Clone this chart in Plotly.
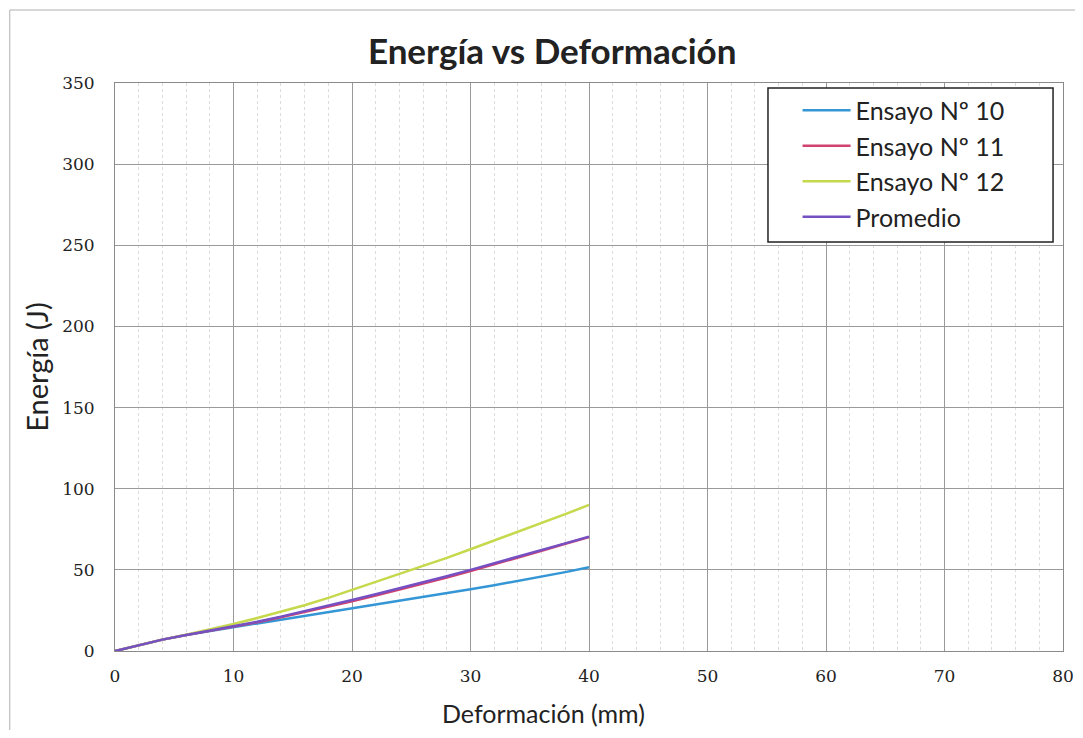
import plotly.graph_objects as go

# Deformación (mm)
deformacion = [0, 2, 4, 6, 8, 10, 12, 14, 16, 18, 20, 22, 24, 26, 28, 30, 32, 34, 36, 38, 40]

# Energía (J) per test
ensayo_10 = [0, 3.5, 7, 9.8, 12.3, 14.6, 17, 19.3, 21.6, 23.9, 26.3, 28.6, 30.9, 33.2, 35.6, 38,
             40.5, 43.1, 45.8, 48.6, 51.6]
ensayo_11 = [0, 3.5, 7, 9.9, 12.5, 14.8, 17.7, 20.8, 24, 27.2, 30.6, 34.2, 37.8, 41.5, 45.3, 49.2,
             53.3, 57.5, 61.8, 66.1, 70.2]
ensayo_12 = [0, 3.5, 7, 10, 13.2, 16.6, 20.3, 24.1, 28.2, 32.7, 37.6, 42.4, 47.3, 52.3, 57.4, 62.7,
             68, 73.4, 78.8, 84.3, 90]
promedio = [0, 3.5, 7, 9.9, 12.5, 15, 18, 21.2, 24.5, 27.8, 31.4, 35, 38.6, 42.3, 46.1, 50,
            54, 58.1, 62.2, 66.3, 70.5]

series = [
    ("Ensayo Nº 10", ensayo_10, "#3596d6"),
    ("Ensayo Nº 11", ensayo_11, "#d2426e"),
    ("Ensayo Nº 12", ensayo_12, "#c6d84c"),
    ("Promedio", promedio, "#7550c2"),
]

fig = go.Figure()
for name, values, color in series:
    fig.add_trace(go.Scatter(x=deformacion, y=values, name=name, mode="lines",
                             line=dict(color=color, width=2.5)))

text_color = "#222222"

# the page body has an 8px margin, so the figure is sized to the visible area
fig.update_layout(
    width=1067, height=722,
    paper_bgcolor="white", plot_bgcolor="white",
    margin=dict(l=107, r=12, t=75, b=79),
    title=dict(text="<b>Energía vs Deformación</b>", x=0.51, xanchor="center", y=0.94, yanchor="middle",
               font=dict(family="Lato", size=35, color=text_color)),
    legend=dict(x=0.72, y=0.992, xanchor="left", yanchor="top",
                borderwidth=0, bgcolor="rgba(0,0,0,0)",
                font=dict(family="Lato", size=25, color=text_color),
                itemwidth=48),
    showlegend=True,
)

fig.update_xaxes(
    range=[0, 80], tickvals=[0, 10, 20, 30, 40, 50, 60, 70, 80], automargin=False,
    showgrid=True, gridcolor="#9a9a9a", gridwidth=1,
    minor=dict(dtick=2, showgrid=True, gridcolor="#dcdcdc", griddash="dot", gridwidth=1),
    showline=True, linecolor="#8a8a8a", mirror=True, zeroline=False,
    ticks="", ticklabelstandoff=10, tickfont=dict(family="DejaVu Serif", size=17, color=text_color),
)
fig.update_yaxes(
    range=[0, 350], tickvals=[0, 50, 100, 150, 200, 250, 300, 350], automargin=False,
    showgrid=True, gridcolor="#9a9a9a", gridwidth=1,
    showline=True, linecolor="#8a8a8a", mirror=True, zeroline=False,
    ticks="", ticklabelstandoff=16, tickfont=dict(family="DejaVu Serif", size=17, color=text_color),
    title=dict(text="Energía (J)", font=dict(family="Lato", size=29, color=text_color), standoff=4),
)

# x axis title sits a little left of the plot centre in the original
fig.add_annotation(text="Deformación (mm)", xref="paper", yref="paper", x=0.4525, y=-0.11,
                   xanchor="center", yanchor="middle", showarrow=False,
                   font=dict(family="Lato", size=25, color=text_color))

# legend frame
fig.add_shape(type="rect", xref="paper", yref="paper", x0=0.6888, y0=0.720, x1=0.9895, y1=0.9912,
              line=dict(color="#222222", width=1.5), fillcolor="white", layer="above")
# outer chart border (only top/left edges are visible in the scan)
fig.add_shape(type="rect", xref="paper", yref="paper", x0=-0.111, y0=-0.3, x1=1.2, y1=1.1285,
              line=dict(color="#b0b0b0", width=1), layer="below")

fig.write_html("out.html")
